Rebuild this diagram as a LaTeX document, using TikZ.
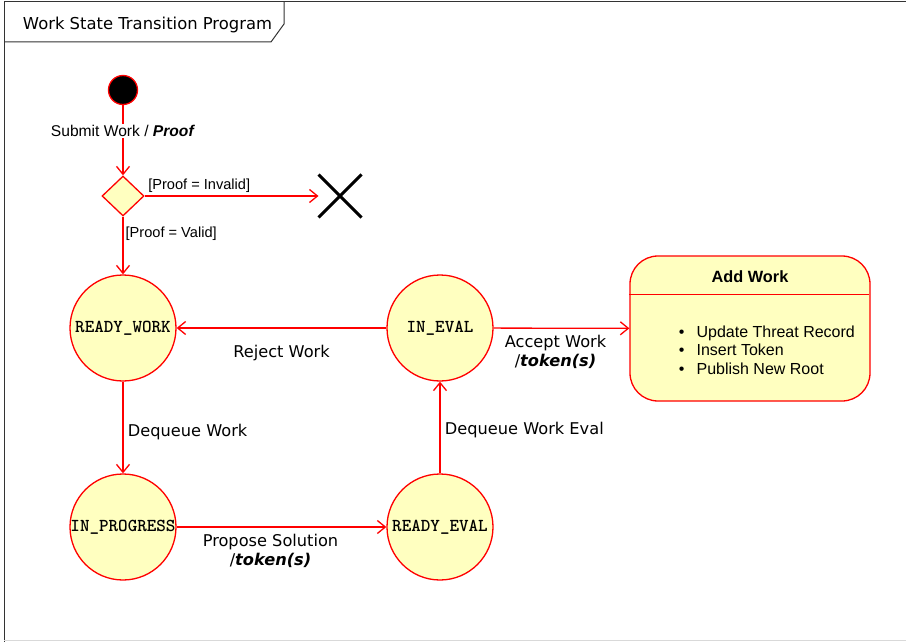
\documentclass[tikz,border=0pt]{standalone}
\usepackage{fontspec}
\setmainfont{Liberation Sans}
\newfontfamily\labelfont{DejaVu Sans}
\usetikzlibrary{positioning}
\usetikzlibrary{arrows.meta,shapes.geometric,shapes.misc}

\definecolor{stfill}{HTML}{FFFFC0}
\definecolor{stline}{HTML}{FF0000}

\tikzset{
  state/.style={circle,draw=stline,fill=stfill,line width=1.3pt,minimum size=106pt,inner sep=0pt,
    font=\fontsize{18.2}{20}\ttfamily\bfseries},
  choice/.style={diamond,draw=stline,fill=stfill,line width=1.3pt,minimum width=42pt,minimum height=40pt,inner sep=0pt},
  initial/.style={circle,draw=stline,fill=black,line width=1.3pt,minimum size=29pt,inner sep=0pt},
  terminal/.style={cross out,draw=black,line width=3pt,minimum size=40pt,inner sep=0pt},
  actionbox/.style={rectangle,rounded corners=28pt,draw=stline,fill=stfill,line width=1.3pt,
    minimum width=240pt,minimum height=145pt,inner sep=0pt},
  trans/.style={font=\fontsize{16.2}{19}\labelfont},
  guard/.style={font=\fontsize{14.6}{17}\selectfont,inner sep=1pt}
}

\begin{document}
\begin{tikzpicture}[x=1pt,y=-1pt,>={Straight Barb[length=8pt,width=13pt]},line width=1.3pt,
    node distance=199pt and 317pt,on grid]
  \useasboundingbox (0,0) rectangle (906,642);

  % frame and title tab
  \draw[black!80,line width=1pt] (906,2) -- (4,2) -- (4,642);
  \draw[black!15,line width=1pt] (4,640.5) -- (906,640.5);
  \draw[black!80,line width=1pt] (4,42) -- (271,42) -- (284,24) -- (284,2);
  \node[anchor=west,font=\fontsize{16.4}{19}\labelfont] (title) at (19,25) {Work State Transition Program};

  % states
  \node[initial] (start) at (123,90) {};
  \node[choice] (check) at (123,196) {};
  \node[terminal] (reject) at (340,196) {};
  \node[state] (readywork) at (123,328) {READY\_WORK};
  \node[state,right=of readywork] (ineval) {IN\_EVAL};
  \node[state,below=of readywork] (inprogress) {IN\_PROGRESS};
  \node[state,below=of ineval] (readyeval) {READY\_EVAL};

  \node[actionbox] (addwork) at (750,328.5) {};
  \draw[stline] (addwork.north west) ++(0,39) -- ++(240,0);
  \node[font=\fontsize{16.3}{19}\selectfont\bfseries] (addtitle) at (750,277) {Add Work};
  \node[anchor=west,align=left,font=\fontsize{16}{18.7}\selectfont] (addlist) at (675,350)
    {\textbullet\hspace{12pt}Update Threat Record\\ \textbullet\hspace{12pt}Insert Token\\ \textbullet\hspace{12pt}Publish New Root};

  % transitions
  \path[->,draw=stline]
    (start) edge node[guard,fill=white,font=\fontsize{15.6}{18}\selectfont,pos=0.37] {Submit Work / \textbf{\textit{Proof}}} (check)
    (check) edge node[guard,at start,anchor=south west,xshift=2pt,yshift=2pt] {[Proof = Invalid]} (reject)
            edge node[guard,pos=0.3,anchor=west,xshift=1pt] {[Proof = Valid]} (readywork)
    (ineval) edge node[trans,midway,below=13pt] {Reject Work} (readywork)
             edge node[trans,midway,below=3pt,align=center,xshift=-6pt] {Accept Work\\/\textbf{\textit{token(s)}}} (addwork)
    (readywork) edge node[trans,pos=0.55,right=1pt,anchor=west] {Dequeue Work} (inprogress)
    (inprogress) edge node[trans,midway,below=3pt,align=center,xshift=-11pt] {Propose Solution\\/\textbf{\textit{token(s)}}} (readyeval)
    (readyeval) edge node[trans,pos=0.47,right=1pt,anchor=west] {Dequeue Work Eval} (ineval)
    ;
\end{tikzpicture}
\end{document}
